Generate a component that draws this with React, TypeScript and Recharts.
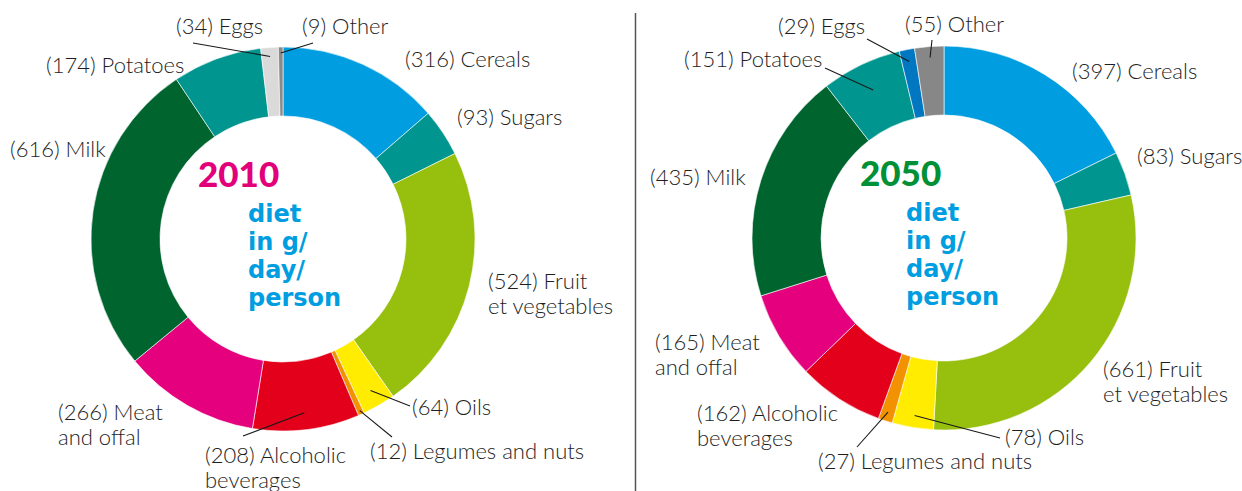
import React from 'react';
import { PieChart, Pie, Cell } from 'recharts';

// categories, clockwise from 12 o'clock ("\n" = label line break)
const categories = [
  'Cereals',
  'Sugars',
  'Fruit\net vegetables',
  'Oils',
  'Legumes and nuts',
  'Alcoholic\nbeverages',
  'Meat\nand offal',
  'Milk',
  'Potatoes',
  'Eggs',
  'Other',
];

// g/day/person
const diet2010 = [316, 93, 524, 64, 12, 208, 266, 616, 174, 34, 9];
const diet2050 = [397, 83, 661, 78, 27, 162, 165, 435, 151, 29, 55];

const colors2010 = ['#009ee0', '#00968f', '#97bf0d', '#ffec00', '#f39200', '#e2001a', '#e5007d', '#00642f', '#00968f', '#dadada', '#8a8a8a'];
const colors2050 = ['#009ee0', '#00968f', '#97bf0d', '#ffec00', '#f39200', '#e2001a', '#e5007d', '#00642f', '#00968f', '#0077c0', '#878787'];

const C2010 = { x: 283, y: 239 };
const C2050 = { x: 944, y: 238 };
const OUTER = 192;
const INNER = 123;

type LabelPos = { dx: number; dy: number; lead?: { r: number; ex: number; ey: number } };

// label placement relative to the donut centre
const labels2010: LabelPos[] = [
  { dx: 122, dy: -179 },
  { dx: 174, dy: -121 },
  { dx: 205, dy: 43 },
  { dx: 129, dy: 169, lead: { r: 175, ex: 127, ey: 167 } },
  { dx: 87, dy: 213, lead: { r: 188, ex: 109, ey: 198 } },
  { dx: -78, dy: 217, lead: { r: 175, ex: -40, ey: 197 } },
  { dx: -225, dy: 174 },
  { dx: -273, dy: -89 },
  { dx: -237, dy: -173 },
  { dx: -107, dy: -212, lead: { r: 183, ex: -90, ey: -196 } },
  { dx: 19, dy: -212, lead: { r: 186, ex: 30, ey: -196 } },
];

const labels2050: LabelPos[] = [
  { dx: 128, dy: -166 },
  { dx: 193, dy: -81 },
  { dx: 159, dy: 132 },
  { dx: 61, dy: 200, lead: { r: 180, ex: 56, ey: 200 } },
  { dx: -126, dy: 224, lead: { r: 183, ex: -87, ey: 209 } },
  { dx: -247, dy: 176 },
  { dx: -289, dy: 105 },
  { dx: -294, dy: -60 },
  { dx: -260, dy: -178, lead: { r: 164, ex: -119, ey: -170 } },
  { dx: -166, dy: -211, lead: { r: 180, ex: -77, ey: -199 } },
  { dx: -39, dy: -213, lead: { r: 181, ex: -12, ey: -198 } },
];

const RAD = Math.PI / 180;
const LABEL_FONT = 'Lato, "Open Sans", sans-serif';

const makeLabel = (layout: LabelPos[]) => (props: any) => {
  const { cx, cy, midAngle, index, value } = props;
  const name: string = (props.payload && props.payload.name) || props.name;
  const pos = layout[index];
  const lines = String(name).split('\n');
  const x = cx + pos.dx;
  const y = cy + pos.dy + 7;
  let leader = null;
  if (pos.lead) {
    const sx = cx + pos.lead.r * Math.cos(-midAngle * RAD);
    const sy = cy + pos.lead.r * Math.sin(-midAngle * RAD);
    leader = <line x1={sx} y1={sy} x2={cx + pos.lead.ex} y2={cy + pos.lead.ey} stroke="#1a1a1a" strokeWidth={1.1} />;
  }
  return (
    <g key={`lbl-${index}`}>
      {leader}
      <text x={x} y={y} fill="#1e1e1e" fontSize={22} fontWeight={300} fontFamily={LABEL_FONT} textAnchor="start">
        {lines.map((ln, i) => (
          <tspan key={i} x={x} dy={i === 0 ? 0 : 25}>
            {i === 0 ? `(${value}) ${ln}` : ln}
          </tspan>
        ))}
      </text>
    </g>
  );
};

const data2010 = categories.map((c, i) => ({ name: c, value: diet2010[i] }));
const data2050 = categories.map((c, i) => ({ name: c, value: diet2050[i] }));

const CenterText = ({ c, year, color, yearDx, textDx }: { c: { x: number; y: number }; year: string; color: string; yearDx: number; textDx: number }) => (
  <g>
    <text x={c.x + yearDx} y={c.y - 52} fill={color} fontSize={35} fontWeight={900} fontFamily="Lato, sans-serif">
      {year}
    </text>
    {['diet', 'in g/', 'day/', 'person'].map((t, i) => (
      <text key={t} x={c.x + textDx} y={c.y - 17 + i * 28} fill="#009ee0" fontSize={24} fontWeight={700} fontFamily='"DejaVu Sans", sans-serif'>
        {t}
      </text>
    ))}
  </g>
);

export default function App() {
  return (
    <div style={{ position: 'fixed', left: 0, top: 0, width: 1242, height: 491, background: '#fff' }}>
      <PieChart width={1242} height={491} margin={{ top: 0, right: 0, bottom: 0, left: 0 }}>
        <Pie
          data={data2010}
          dataKey="value"
          nameKey="name"
          cx={C2010.x}
          cy={C2010.y}
          innerRadius={INNER}
          outerRadius={OUTER}
          startAngle={90}
          endAngle={-270}
          stroke="#fff"
          strokeWidth={0.6}
          labelLine={false}
          label={makeLabel(labels2010)}
          isAnimationActive={false}
        >
          {data2010.map((d, i) => (
            <Cell key={`a-${i}`} fill={colors2010[i]} />
          ))}
        </Pie>
        <Pie
          data={data2050}
          dataKey="value"
          nameKey="name"
          cx={C2050.x}
          cy={C2050.y}
          innerRadius={INNER}
          outerRadius={OUTER}
          startAngle={90}
          endAngle={-270}
          stroke="#fff"
          strokeWidth={0.6}
          labelLine={false}
          label={makeLabel(labels2050)}
          isAnimationActive={false}
        >
          {data2050.map((d, i) => (
            <Cell key={`b-${i}`} fill={colors2050[i]} />
          ))}
        </Pie>
      </PieChart>
      <svg width={1242} height={491} style={{ position: 'absolute', left: 0, top: 0, pointerEvents: 'none' }}>
        <line x1={635.5} y1={13} x2={635.5} y2={491} stroke="#555" strokeWidth={1.5} />
        <CenterText c={C2010} year="2010" color="#e2007a" yearDx={-85} textDx={-35} />
        <CenterText c={C2050} year="2050" color="#009036" yearDx={-84} textDx={-38} />
      </svg>
    </div>
  );
}
